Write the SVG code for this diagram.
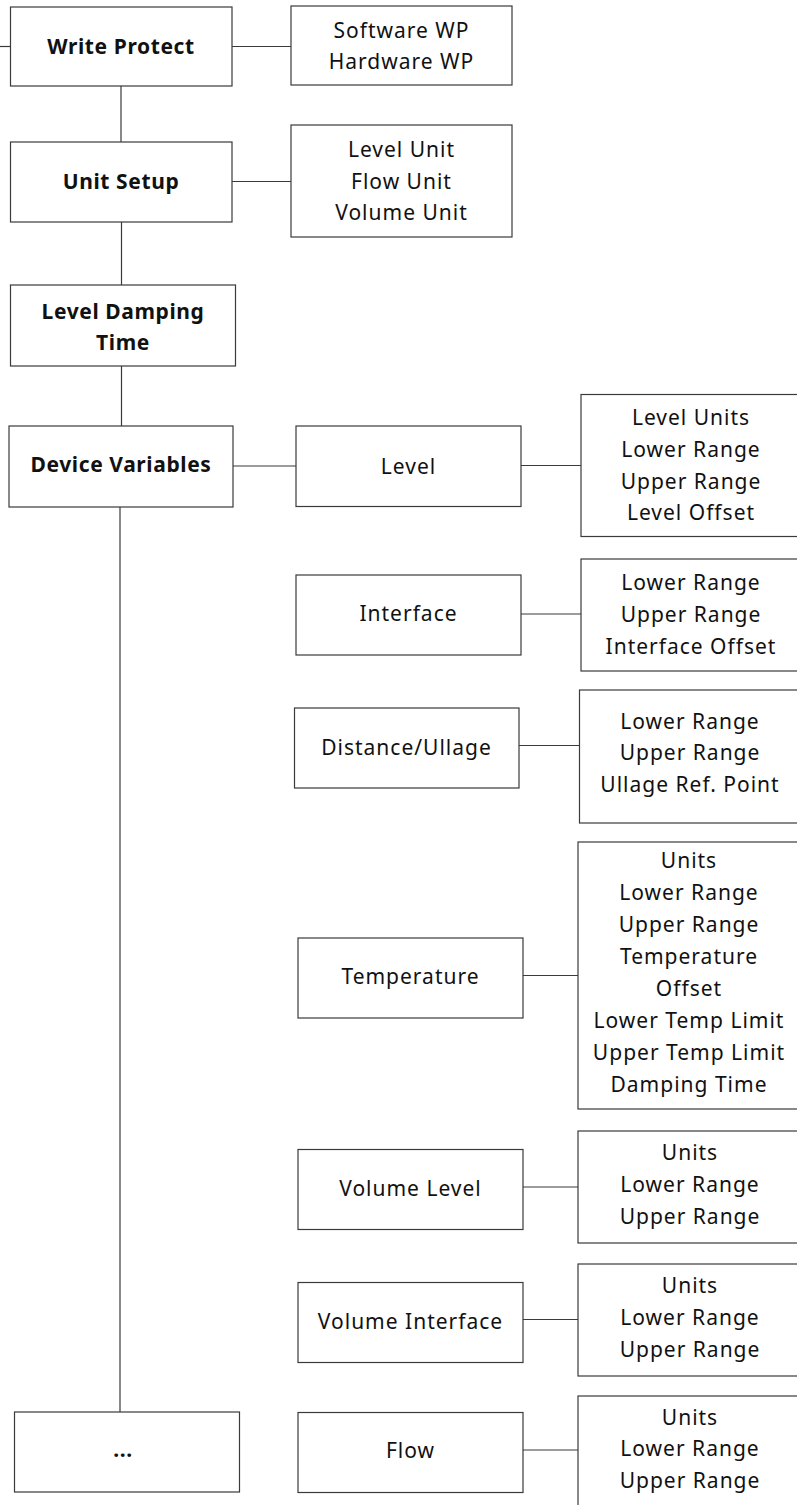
<svg xmlns="http://www.w3.org/2000/svg" width="797" height="1505" viewBox="0 0 797 1505">
<style>
rect{fill:#fff;stroke:#3a3a3a;stroke-width:1.2}
.c line{stroke:#3a3a3a;stroke-width:1.2}
text{font-family:"Noto Sans","Liberation Sans",sans-serif;font-size:21px;letter-spacing:1px;fill:#111;text-anchor:middle}
.b{font-weight:bold;letter-spacing:0.6px}
</style>
<rect x="0" y="0" width="797" height="1505" style="stroke:none"/>
<g class="c" id="connectors">
<line x1="0" y1="46.5" x2="10.5" y2="46.5"/>
<line x1="232" y1="46.5" x2="291" y2="46.5"/>
<line x1="121" y1="86" x2="121" y2="142"/>
<line x1="232" y1="181.5" x2="291" y2="181.5"/>
<line x1="121.5" y1="222" x2="121.5" y2="285"/>
<line x1="121.5" y1="366" x2="121.5" y2="426"/>
<line x1="233" y1="466" x2="296" y2="466"/>
<line x1="120" y1="507" x2="120" y2="1412"/>
<line x1="521" y1="465.5" x2="581" y2="465.5"/>
<line x1="521" y1="614" x2="581" y2="614"/>
<line x1="519" y1="745.5" x2="579" y2="745.5"/>
<line x1="523" y1="975.5" x2="578" y2="975.5"/>
<line x1="523" y1="1187" x2="578" y2="1187"/>
<line x1="523" y1="1319.5" x2="578" y2="1319.5"/>
<line x1="523" y1="1450" x2="578" y2="1450"/>
</g>
<g id="write-protect"><rect x="10.5" y="7" width="221.5" height="79"/><text class="b" x="121" y="54">Write Protect</text></g>
<g id="wp-options"><rect x="291" y="6" width="221" height="79"/><text x="401.5" y="37.5">Software WP</text><text x="401.5" y="68.5">Hardware WP</text></g>
<g id="unit-setup"><rect x="10.5" y="142" width="221.5" height="80"/><text class="b" x="121" y="189">Unit Setup</text></g>
<g id="unit-options"><rect x="291" y="125" width="221" height="112"/><text x="401.5" y="156.5">Level Unit</text><text x="401.5" y="188.5">Flow Unit</text><text x="401.5" y="220">Volume Unit</text></g>
<g id="level-damping"><rect x="10.5" y="285" width="225" height="81"/><text class="b" x="123" y="318.5">Level Damping</text><text class="b" x="123" y="350">Time</text></g>
<g id="device-variables"><rect x="9" y="426" width="224" height="81"/><text class="b" x="121" y="472">Device Variables</text></g>
<g id="more"><rect x="14.5" y="1412" width="225" height="80"/><text class="b" x="123" y="1457">...</text></g>
<g id="level"><rect x="296" y="426" width="225" height="80.5"/><text x="408.5" y="473.5">Level</text></g>
<g id="level-list"><rect x="581" y="394.5" width="225" height="142"/><text x="691" y="424.5">Level Units</text><text x="691" y="456.5">Lower Range</text><text x="691" y="488.5">Upper Range</text><text x="691" y="520">Level Offset</text></g>
<g id="interface"><rect x="296" y="575" width="225" height="80"/><text x="408.5" y="621">Interface</text></g>
<g id="interface-list"><rect x="581" y="559" width="225" height="112"/><text x="691" y="590">Lower Range</text><text x="691" y="622">Upper Range</text><text x="691" y="654">Interface Offset</text></g>
<g id="distance"><rect x="294.5" y="708" width="224.5" height="80"/><text x="406.5" y="755">Distance/Ullage</text></g>
<g id="distance-list"><rect x="579.5" y="690" width="226" height="133"/><text x="690" y="728.5">Lower Range</text><text x="690" y="760">Upper Range</text><text x="690" y="792">Ullage Ref. Point</text></g>
<g id="temperature"><rect x="298" y="938" width="225" height="80"/><text x="410.5" y="983.5">Temperature</text></g>
<g id="temperature-list"><rect x="578" y="842" width="228" height="267"/><text x="689" y="868">Units</text><text x="689" y="900">Lower Range</text><text x="689" y="932">Upper Range</text><text x="689" y="964">Temperature</text><text x="689" y="996">Offset</text><text x="689" y="1028">Lower Temp Limit</text><text x="689" y="1060">Upper Temp Limit</text><text x="689" y="1092">Damping Time</text></g>
<g id="volume-level"><rect x="298" y="1149.5" width="225" height="80"/><text x="410.5" y="1195.5">Volume Level</text></g>
<g id="volume-level-list"><rect x="578" y="1131" width="228" height="112"/><text x="690" y="1160">Units</text><text x="690" y="1192">Lower Range</text><text x="690" y="1224">Upper Range</text></g>
<g id="volume-interface"><rect x="298" y="1282.5" width="225" height="80"/><text x="410.5" y="1329">Volume Interface</text></g>
<g id="volume-interface-list"><rect x="578" y="1264" width="228" height="112"/><text x="690" y="1293">Units</text><text x="690" y="1325">Lower Range</text><text x="690" y="1357">Upper Range</text></g>
<g id="flow"><rect x="298" y="1412.5" width="225" height="80"/><text x="410.5" y="1457.5">Flow</text></g>
<g id="flow-list"><rect x="578" y="1396" width="228" height="130"/><text x="690" y="1425">Units</text><text x="690" y="1456">Lower Range</text><text x="690" y="1487.5">Upper Range</text></g>
</svg>
